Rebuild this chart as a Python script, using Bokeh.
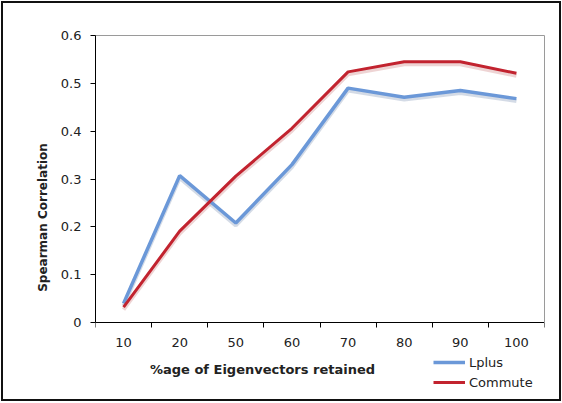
from bokeh.plotting import figure
from bokeh.models import FixedTicker, Label, Range1d, LinearAxis
from bokeh.embed import file_html
from bokeh.resources import INLINE

categories = ["10", "20", "50", "60", "70", "80", "90", "100"]
lplus = [0.040, 0.307, 0.208, 0.330, 0.490, 0.471, 0.485, 0.468]
commute = [0.032, 0.191, 0.306, 0.406, 0.524, 0.545, 0.545, 0.521]
y_ticks = [0, 0.1, 0.2, 0.3, 0.4, 0.5, 0.6]

xs = [i + 0.5 for i in range(len(categories))]
FONT = "DejaVu Sans"

# geometry (px)
FRAME_W = 449
AXIS_H = 287            # pixel height of 0..0.6
FRAME_H = 364           # frame extends below the x axis to hold title + legend
Y_MAX = 0.6
y_min = -Y_MAX * (FRAME_H - AXIS_H) / AXIS_H

p = figure(frame_width=FRAME_W, frame_height=FRAME_H, output_backend="svg", toolbar_location=None,
           x_range=Range1d(0, len(categories)), y_range=Range1d(y_min, Y_MAX),
           min_border_left=92, min_border_right=15, min_border_top=32, min_border_bottom=0)
p.styles = {"border": "2px solid #111", "margin-left": "1px", "margin-top": "1px"}
p.background_fill_color = "white"
p.border_fill_color = "white"
p.outline_line_color = None
p.grid.visible = False

# shadows
p.line(xs, [v - 0.005 for v in lplus], line_color="#9fb0c8", line_width=4, line_alpha=0.45)
p.line(xs, [v - 0.005 for v in commute], line_color="#d9a0a0", line_width=4, line_alpha=0.45)

p.line(xs, lplus, line_color="#6b98d8", line_width=3.5, legend_label="Lplus")
p.line(xs, commute, line_color="#c2232f", line_width=3, legend_label="Commute")

# x axis: labels at centers, ticks at boundaries, placed at y=0
xa = p.xaxis[0]
xa.fixed_location = 0
xa.ticker = FixedTicker(ticks=xs, minor_ticks=list(range(len(categories) + 1)))
xa.major_label_overrides = {x: c for x, c in zip(xs, categories)}
xa.major_tick_out = 0
xa.major_tick_in = 0
xa.minor_tick_out = 5
xa.minor_tick_in = 0
xa.minor_tick_line_color = "black"
xa.axis_line_color = "black"
xa.major_label_standoff = 10
xa.major_label_text_font = FONT
xa.major_label_text_font_size = "13px"
xa.major_label_text_color = "#222"

ya = p.yaxis[0]
ya.bounds = (0, Y_MAX)
ya.ticker = FixedTicker(ticks=y_ticks, minor_ticks=[])
ya.major_tick_out = 5
ya.major_tick_in = 0
ya.minor_tick_out = 0
ya.axis_line_color = "black"
ya.major_tick_line_color = "black"
ya.major_label_standoff = 9
ya.major_label_text_font = FONT
ya.major_label_text_font_size = "13px"
ya.major_label_text_color = "#222"
ya.axis_label = "Spearman Correlation"
ya.axis_label_text_font = FONT
ya.axis_label_text_font_size = "12px"
ya.axis_label_text_font_style = "bold"
ya.axis_label_text_color = "#222"
ya.axis_label_standoff = 8

# grey plot-area border on top and right
top_ax = LinearAxis(ticker=FixedTicker(ticks=[]), axis_line_color="#9a9a9a",
                    major_tick_out=0, major_tick_in=0, minor_tick_out=0, minor_tick_in=0,
                    major_label_text_font_size="0px")
p.add_layout(top_ax, "above")
right_ax = LinearAxis(ticker=FixedTicker(ticks=[]), axis_line_color="#9a9a9a", bounds=(0, Y_MAX),
                      major_tick_out=0, major_tick_in=0, minor_tick_out=0, minor_tick_in=0,
                      major_label_text_font_size="0px")
p.add_layout(right_ax, "right")

p.add_layout(Label(x=2.976, y=-0.098, text="%age of Eigenvectors retained",
                   text_font=FONT, text_font_size="13px", text_font_style="bold",
                   text_color="#222", text_align="center", text_baseline="middle"))

lg = p.legend[0]
lg.location = (338, 7)
lg.border_line_color = None
lg.background_fill_alpha = 0
lg.padding = 0
lg.margin = 0
lg.spacing = 0
lg.glyph_width = 32
lg.glyph_height = 20
lg.label_height = 20
lg.label_standoff = 4
lg.label_text_font = FONT
lg.label_text_font_size = "13px"
lg.label_text_color = "#222"

open("out.html", "w").write(file_html(p, INLINE))
